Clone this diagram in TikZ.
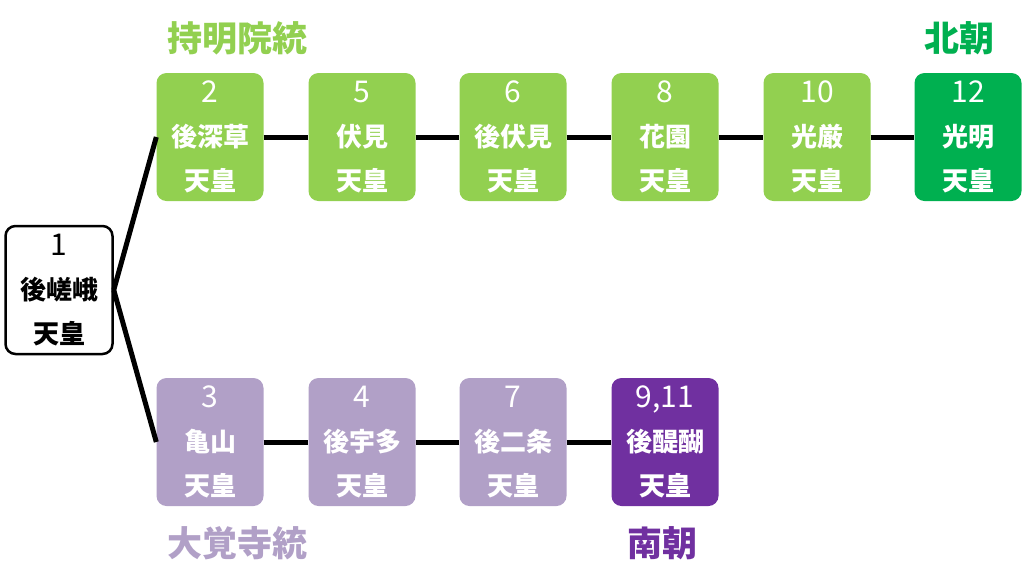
\documentclass[tikz,border=0pt]{standalone}
\usepackage{fontspec}
\newfontfamily\jp{Noto Sans CJK JP}
\usetikzlibrary{positioning}
\definecolor{jimyo}{HTML}{92D050}
\definecolor{hokucho}{HTML}{00B050}
\definecolor{daikaku}{HTML}{B1A0C7}
\definecolor{nancho}{HTML}{7030A0}
\tikzset{
	tenno/.style={rounded corners=10pt,minimum width=107pt,minimum height=128pt,inner sep=0pt,
		align=center,text=white,font=\jp\bfseries\fontsize{26}{44}\selectfont},
	toto/.style={font=\jp\bfseries\fontsize{35}{40}\selectfont},
	link/.style={line width=5pt}
}
\newcommand\nr[1]{{\mdseries\fontsize{30}{44}\selectfont #1}}

\begin{document}
\begin{tikzpicture}[x=1pt,y=-1pt]
	\useasboundingbox (0,0) rectangle (1024,566);
	% first emperor
	\node[tenno,draw=black,line width=2.5pt,fill=white,text=black] (gosaga) at (59,290) {\nr{1}\\後嵯峨\\天皇};
	% jimyoin line
	\node[tenno,fill=jimyo] (gofukakusa) at (210,137) {\nr{2}\\後深草\\天皇};
	\node[tenno,fill=jimyo] (fushimi) at (362,137) {\nr{5}\\伏見\\天皇};
	\node[tenno,fill=jimyo] (gofushimi) at (513,137) {\nr{6}\\後伏見\\天皇};
	\node[tenno,fill=jimyo] (hanazono) at (665,137) {\nr{8}\\花園\\天皇};
	\node[tenno,fill=jimyo] (kogon) at (817,137) {\nr{10}\\光厳\\天皇};
	\node[tenno,fill=hokucho] (komyo) at (968,137) {\nr{12}\\光明\\天皇};
	% daikakuji line
	\node[tenno,fill=daikaku] (kameyama) at (210,442) {\nr{3}\\亀山\\天皇};
	\node[tenno,fill=daikaku] (gouda) at (362,442) {\nr{4}\\後宇多\\天皇};
	\node[tenno,fill=daikaku] (gonijo) at (513,442) {\nr{7}\\後二条\\天皇};
	\node[tenno,fill=nancho] (godaigo) at (665,442) {\nr{9,11}\\後醍醐\\天皇};
	% labels
	\node[toto,text=jimyo] (jimyoin) at (237,38) {持明院統};
	\node[toto,text=hokucho] (hoku) at (959,38) {北朝};
	\node[toto,text=daikaku] (daikakuji) at (237,543) {大覚寺統};
	\node[toto,text=nancho] (nan) at (662,543) {南朝};
	% links
	\draw[link] (gosaga.east) -- (gofukakusa.west);
	\draw[link] (gosaga.east) -- (kameyama.west);
	\draw[link] (gofukakusa.east) -- (fushimi.west);
	\draw[link] (fushimi.east) -- (gofushimi.west);
	\draw[link] (gofushimi.east) -- (hanazono.west);
	\draw[link] (hanazono.east) -- (kogon.west);
	\draw[link] (kogon.east) -- (komyo.west);
	\draw[link] (kameyama.east) -- (gouda.west);
	\draw[link] (gouda.east) -- (gonijo.west);
	\draw[link] (gonijo.east) -- (godaigo.west);
\end{tikzpicture}
\end{document}
